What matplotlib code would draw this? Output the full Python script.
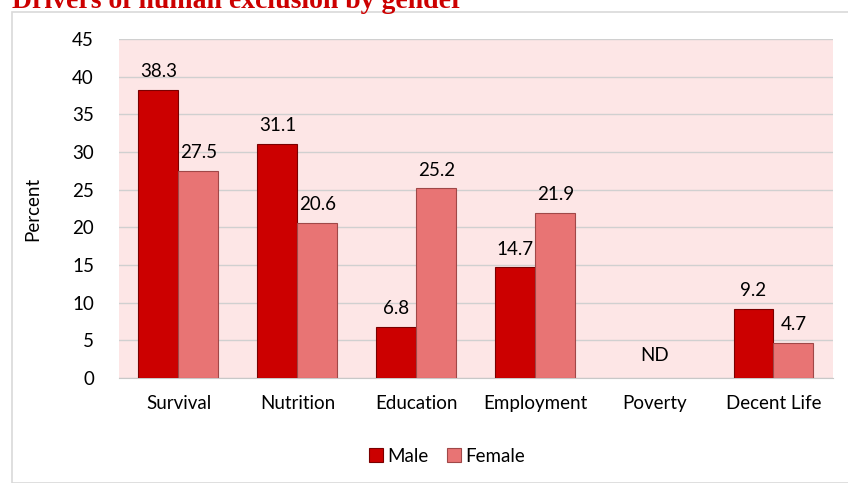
import matplotlib.pyplot as plt
import numpy as np
from matplotlib.patches import Rectangle

# ---------- data ----------
CATEGORIES = ["Survival", "Nutrition", "Education", "Employment", "Poverty", "Decent Life"]
MALE = [38.3, 31.1, 6.8, 14.7, np.nan, 9.2]
FEMALE = [27.5, 20.6, 25.2, 21.9, np.nan, 4.7]
SERIES = ["Male", "Female"]
Y_TICKS = [0, 5, 10, 15, 20, 25, 30, 35, 40, 45]

TITLE = "Drivers of human exclusion by gender"
MALE_COLOR = "#CC0000"
FEMALE_COLOR = "#E87474"
BG_COLOR = "#FDE6E6"
FONT = "Lato"
FS = 13.5


def main():
    fig = plt.figure(figsize=(8.48, 4.83), dpi=100)
    ax = fig.add_axes([0.1403, 0.2174, 0.842, 0.7016])

    # outer chart frame
    fig.patches.append(Rectangle((12 / 848, 0), 1, 1 - 12 / 483, transform=fig.transFigure,
                                 fill=False, edgecolor="#D9D9D9", linewidth=1.2))

    ax.set_facecolor(BG_COLOR)
    x = np.arange(len(CATEGORIES))
    w = 0.336

    ax.bar(x - w / 2, MALE, w, color=MALE_COLOR, edgecolor="#7A0000", linewidth=0.8,
           label=SERIES[0], zorder=3)
    ax.bar(x + w / 2, FEMALE, w, color=FEMALE_COLOR, edgecolor="#A04848", linewidth=0.8,
           label=SERIES[1], zorder=3)

    for i in range(len(CATEGORIES)):
        for off, vals in ((-w / 2, MALE), (w / 2, FEMALE)):
            v = vals[i]
            if np.isnan(v):
                continue
            ax.annotate(f"{v:.1f}", (x[i] + off, v), xytext=(0, 7), textcoords="offset points",
                        ha="center", va="bottom", fontsize=FS, family=FONT)
        if np.isnan(MALE[i]) and np.isnan(FEMALE[i]):
            ax.text(x[i], 3, "ND", ha="center", va="center", fontsize=FS, family=FONT)

    ax.set_xlim(-0.5, len(CATEGORIES) - 0.5)
    ax.set_ylim(0, 45)
    ax.set_yticks(Y_TICKS)
    ax.set_yticklabels([str(t) for t in Y_TICKS], fontsize=FS, family=FONT)
    ax.set_xticks(x)
    ax.set_xticklabels(CATEGORIES, fontsize=FS, family=FONT)
    ax.tick_params(axis="both", length=0)
    ax.tick_params(axis="y", pad=18)
    ax.tick_params(axis="x", pad=12)
    ax.yaxis.grid(True, color="#D0D0D0", linewidth=1.0, zorder=0)
    ax.set_axisbelow(True)
    for s in ["top", "right", "left"]:
        ax.spines[s].set_visible(False)
    ax.spines["bottom"].set_color("#C8C8C8")

    ax.set_ylabel("Percent", fontsize=FS, family=FONT, labelpad=22)

    ax.legend(loc="center", bbox_to_anchor=(447 / 848, 1 - 456 / 483),
              bbox_transform=fig.transFigure, ncol=2, frameon=False,
              handlelength=0.75, handleheight=0.75, handletextpad=0.2, columnspacing=1.0,
              prop={"family": FONT, "size": FS})

    fig.text(12 / 848, 1 - 8 / 483, TITLE, color="#CC0000", fontsize=20, fontweight="bold",
             family="Liberation Serif", ha="left", va="baseline")

    fig.savefig("out.png", dpi=100)
    plt.close(fig)


if __name__ == "__main__":
    main()
